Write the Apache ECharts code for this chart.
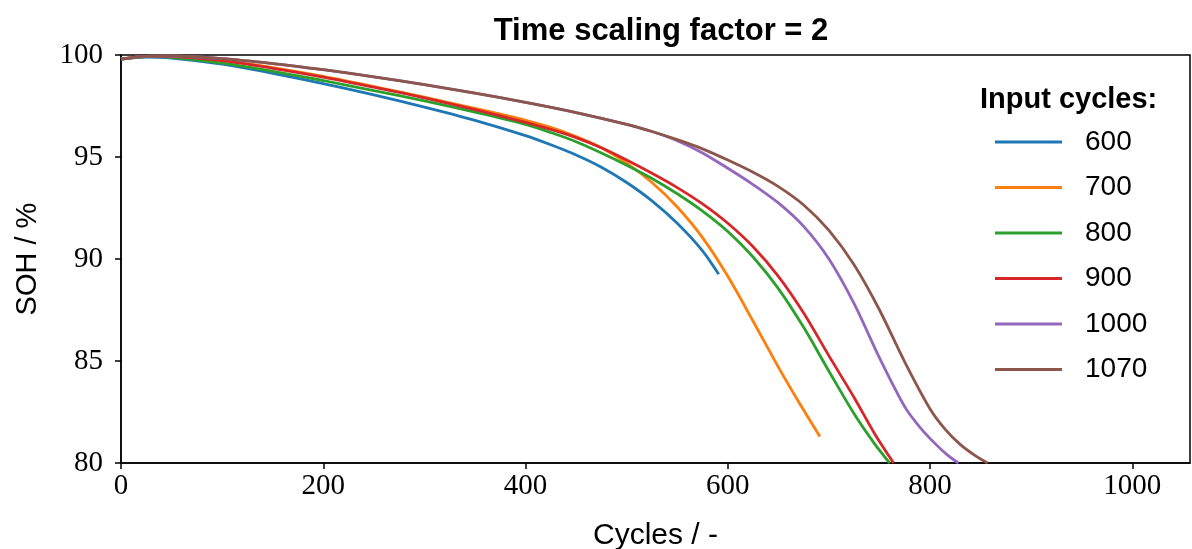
<!DOCTYPE html>
<html>
<head>
<meta charset="utf-8">
<script src="https://cdn.jsdelivr.net/npm/echarts@6/dist/echarts.min.js"></script>
<style>
  html, body { margin: 0; padding: 0; background: #fff; }
  #main { width: 1192px; height: 549px; }
</style>
</head>
<body>
<div id="main"></div>
<script>
// SOH curves, [cycle, SOH %]
var c600 = [[0,99.8],[25,99.9],[50,99.85],[100,99.55],[150,99.1],[200,98.6],[250,98.05],[300,97.45],[350,96.8],[400,96.05],[425,95.6],[450,95.1],[475,94.5],[500,93.75],[525,92.85],[550,91.75],[575,90.4],[591,89.25]];
var c700 = [[0,99.8],[25,99.93],[50,99.92],[100,99.75],[150,99.38],[200,98.95],[250,98.45],[300,97.93],[350,97.38],[400,96.8],[425,96.45],[450,96.0],[475,95.45],[500,94.7],[525,93.75],[550,92.55],[575,91.05],[600,89.15],[625,86.95],[650,84.7],[670,83.0],[691,81.3]];
var c800 = [[0,99.8],[25,99.92],[50,99.88],[100,99.6],[150,99.2],[200,98.75],[250,98.25],[300,97.75],[350,97.2],[400,96.6],[425,96.2],[450,95.75],[475,95.2],[500,94.6],[525,93.95],[550,93.2],[575,92.35],[600,91.35],[625,90.1],[650,88.55],[675,86.65],[700,84.5],[725,82.4],[745,80.95],[760,80.0]];
var c900 = [[0,99.8],[25,99.93],[50,99.92],[100,99.72],[150,99.35],[200,98.92],[250,98.42],[300,97.9],[350,97.32],[400,96.7],[425,96.35],[450,95.95],[475,95.45],[500,94.85],[525,94.2],[550,93.5],[575,92.7],[600,91.75],[625,90.6],[650,89.15],[675,87.35],[700,85.25],[725,83.2],[745,81.45],[764,80.0]];
var c1000 = [[0,99.8],[25,99.93],[50,99.95],[100,99.82],[150,99.58],[200,99.28],[250,98.93],[300,98.55],[350,98.13],[400,97.68],[450,97.18],[500,96.6],[525,96.25],[550,95.8],[575,95.2],[600,94.45],[625,93.65],[650,92.75],[675,91.6],[700,90.0],[725,87.8],[750,85.15],[775,82.75],[790,81.75],[805,80.95],[817,80.4],[828,80.0]];
var c1070 = [[0,99.8],[25,99.93],[50,99.95],[100,99.82],[150,99.58],[200,99.28],[250,98.93],[300,98.55],[350,98.13],[400,97.68],[450,97.18],[500,96.6],[525,96.25],[550,95.85],[575,95.4],[600,94.85],[625,94.25],[650,93.55],[675,92.65],[700,91.4],[725,89.7],[750,87.5],[775,84.95],[800,82.65],[815,81.65],[830,80.9],[845,80.35],[857,80.0]];

var names = ['600', '700', '800', '900', '1000', '1070'];
var curves = [c600, c700, c800, c900, c1000, c1070];
var colors = ['#1f77b4', '#ff7f0e', '#2ca02c', '#d62728', '#9467bd', '#8c564b'];

var myChart = echarts.init(document.getElementById('main'));

var serifFont = '"Liberation Serif", "DejaVu Serif", serif';
var sansFont = '"Liberation Sans", "DejaVu Sans", sans-serif';

var series = [];
for (var i = 0; i < curves.length; i++) {
    series.push({
        name: names[i],
        type: 'line',
        data: curves[i],
        smooth: 0.3,
        showSymbol: false,
        clip: true,
        lineStyle: { color: colors[i], width: 2.8 },
        itemStyle: { color: colors[i] }
    });
}

option = {
    animation: false,
    color: colors,
    title: [{
        text: 'Time scaling factor = 2',
        left: 656,
        top: 11,
        textAlign: 'center',
        textStyle: { fontFamily: sansFont, fontWeight: 'bold', fontSize: 31, color: '#000' }
    }, {
        text: 'Input cycles:',
        left: 975,
        top: 80,
        textStyle: { fontFamily: sansFont, fontWeight: 'bold', fontSize: 29, color: '#000' }
    }],
    legend: {
        data: names,
        orient: 'vertical',
        left: 995,
        top: 128,
        padding: 0,
        itemWidth: 67,
        itemHeight: 3,
        itemGap: 17.5,
        icon: 'rect',
        textStyle: { fontFamily: sansFont, fontSize: 28, color: '#000', padding: [0, 0, 0, 18], lineHeight: 28 }
    },
    grid: {
        left: 121,
        right: 2,
        top: 55,
        bottom: 86,
        show: true,
        borderColor: '#000',
        borderWidth: 1.5,
        containLabel: false,
        outerBoundsMode: 'none'
    },
    xAxis: {
        type: 'value',
        min: 0,
        max: 1057,
        interval: 200,
        name: 'Cycles / -',
        nameLocation: 'middle',
        nameGap: 58,
        nameTextStyle: { fontFamily: sansFont, fontSize: 30, color: '#000' },
        axisLine: { show: true, lineStyle: { color: '#000', width: 1.5 } },
        axisTick: { show: true, length: 6, lineStyle: { color: '#000', width: 1.5 } },
        axisLabel: {
            fontFamily: serifFont, fontSize: 29, color: '#000', margin: 9, showMaxLabel: false,
            formatter: function (v) { return String(v); }
        },
        splitLine: { show: false }
    },
    yAxis: {
        type: 'value',
        min: 80,
        max: 100,
        interval: 5,
        name: 'SOH / %',
        nameLocation: 'middle',
        nameGap: 79,
        nameTextStyle: { fontFamily: sansFont, fontSize: 29, color: '#000' },
        axisLine: { show: true, lineStyle: { color: '#000', width: 1.5 } },
        axisTick: { show: true, length: 6, lineStyle: { color: '#000', width: 1.5 } },
        axisLabel: { fontFamily: serifFont, fontSize: 29, color: '#000', margin: 18 },
        splitLine: { show: false }
    },
    series: series
};

myChart.setOption(option);
</script>
</body>
</html>
